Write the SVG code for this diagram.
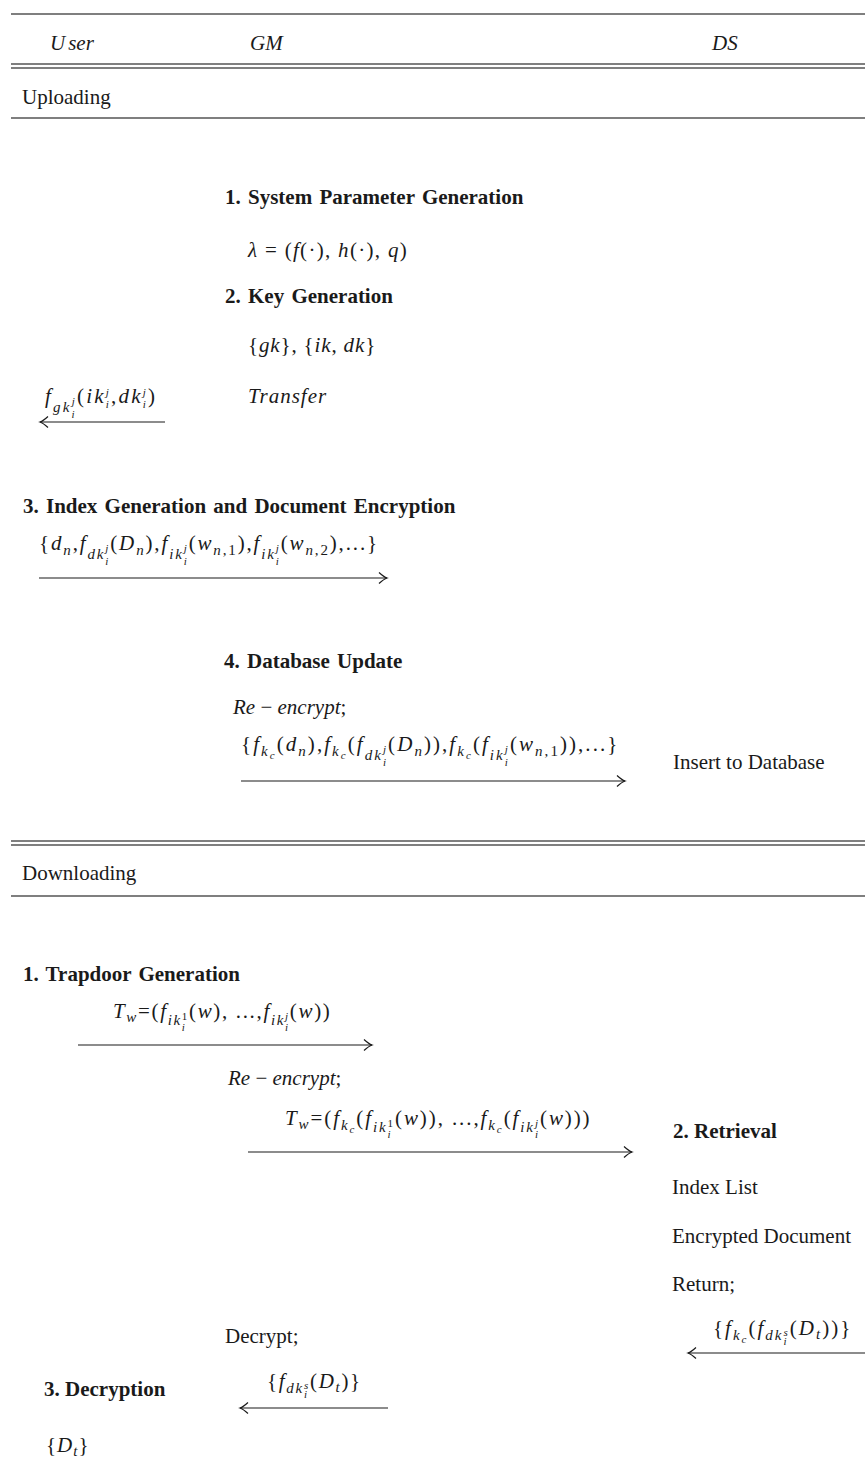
<svg xmlns="http://www.w3.org/2000/svg" width="865" height="1463" viewBox="0 0 865 1463">
<style>
.t{font-family:"Liberation Serif","Times New Roman",serif;font-size:21px;fill:#1a1a1a}
.b{font-weight:bold}
.i{font-style:italic}
.s{font-size:15px;font-style:italic}
.ss{font-size:11px;font-style:italic}
.u{font-style:normal}
.rule{stroke:#555;stroke-width:1.3;fill:none}
.arr{stroke:#1a1a1a;stroke-width:1.2;fill:none}
</style>
<defs>
<marker id="ah" viewBox="-10 -7 12 14" markerWidth="12" markerHeight="14" refX="0" refY="0" orient="auto-start-reverse" markerUnits="userSpaceOnUse">
<path d="M-8,-5.5 Q-3,-1 0,0 Q-3,1 -8,5.5" fill="none" stroke="#1a1a1a" stroke-width="1.2"/>
</marker>
</defs>

<g id="table-rules">
<line class="rule" x1="11" y1="14" x2="865" y2="14"/>
<line class="rule" x1="11" y1="64" x2="865" y2="64"/>
<line class="rule" x1="11" y1="68" x2="865" y2="68"/>
<line class="rule" x1="11" y1="118" x2="865" y2="118"/>
<line class="rule" x1="11" y1="841" x2="865" y2="841"/>
<line class="rule" x1="11" y1="845" x2="865" y2="845"/>
<line class="rule" x1="11" y1="896" x2="865" y2="896"/>
</g>

<g id="header">
<text class="t i" x="50" y="50">U<tspan dx="3">ser</tspan></text>
<text class="t i" x="250" y="50">GM</text>
<text class="t i" x="712" y="50">DS</text>
</g>

<g id="uploading-label"><text class="t" x="22" y="104">Uploading</text></g>

<g id="gm-sysparam">
<text class="t b" x="225" y="204" word-spacing="2">1. System Parameter Generation</text>
<text class="t" x="248" y="257" letter-spacing="1.3"><tspan class="i">λ</tspan> = (<tspan class="i">f</tspan>(·),  <tspan class="i">h</tspan>(·),  <tspan class="i">q</tspan>)</text>
</g>

<g id="gm-keygen">
<text class="t b" x="225" y="303" word-spacing="2">2. Key Generation</text>
<text class="t" x="248" y="352" letter-spacing="0.85">{<tspan class="i">gk</tspan>}, {<tspan class="i">ik</tspan>, <tspan class="i">dk</tspan>}</text>
<text class="t i" x="248" y="403" letter-spacing="1">Transfer</text>
</g>

<g id="user-transfer-label">
<text class="t" x="45" y="403" letter-spacing="2.2"><tspan class="i">f</tspan><tspan class="s" dy="9">gk</tspan><tspan class="ss" dy="6">i</tspan><tspan class="ss" dx="-5.2" dy="-13">j</tspan><tspan dy="-2">(</tspan><tspan class="i">ik</tspan><tspan class="ss" dy="5">i</tspan><tspan class="ss" dx="-5.2" dy="-12">j</tspan><tspan dy="7">,</tspan><tspan class="i">dk</tspan><tspan class="ss" dy="5">i</tspan><tspan class="ss" dx="-5.2" dy="-12">j</tspan><tspan dy="7">)</tspan></text>
</g>

<g id="user-index">
<text class="t b" x="23" y="513" word-spacing="2">3. Index Generation and Document Encryption</text>
<text class="t" x="39" y="550" letter-spacing="1.85">{<tspan class="i">d</tspan><tspan class="s" dy="5">n</tspan><tspan dy="-5">,</tspan><tspan class="i">f</tspan><tspan class="s" dy="9">dk</tspan><tspan class="ss" dy="6">i</tspan><tspan class="ss" dx="-4.85" dy="-13">j</tspan><tspan dy="-2">(</tspan><tspan class="i">D</tspan><tspan class="s" dy="5">n</tspan><tspan dy="-5">),</tspan><tspan class="i">f</tspan><tspan class="s" dy="9">ik</tspan><tspan class="ss" dy="6">i</tspan><tspan class="ss" dx="-4.85" dy="-13">j</tspan><tspan dy="-2">(</tspan><tspan class="i">w</tspan><tspan class="s" dy="5">n<tspan class="u">,1</tspan></tspan><tspan dy="-5">),</tspan><tspan class="i">f</tspan><tspan class="s" dy="9">ik</tspan><tspan class="ss" dy="6">i</tspan><tspan class="ss" dx="-4.85" dy="-13">j</tspan><tspan dy="-2">(</tspan><tspan class="i">w</tspan><tspan class="s" dy="5">n<tspan class="u">,2</tspan></tspan><tspan dy="-5">),...}</tspan></text>
</g>

<g id="gm-dbupdate">
<text class="t b" x="224" y="668" word-spacing="2">4. Database Update</text>
<text class="t" x="233" y="714"><tspan class="i">Re</tspan> − <tspan class="i">encrypt</tspan>;</text>
<text class="t" x="241" y="751" letter-spacing="2.05">{<tspan class="i">f</tspan><tspan class="s" dy="5">k</tspan><tspan class="ss" dy="3">c</tspan><tspan dy="-8">(</tspan><tspan class="i">d</tspan><tspan class="s" dy="5">n</tspan><tspan dy="-5">),</tspan><tspan class="i">f</tspan><tspan class="s" dy="5">k</tspan><tspan class="ss" dy="3">c</tspan><tspan dy="-8">(</tspan><tspan class="i">f</tspan><tspan class="s" dy="9">dk</tspan><tspan class="ss" dy="6">i</tspan><tspan class="ss" dx="-5.05" dy="-13">j</tspan><tspan dy="-2">(</tspan><tspan class="i">D</tspan><tspan class="s" dy="5">n</tspan><tspan dy="-5">)),</tspan><tspan class="i">f</tspan><tspan class="s" dy="5">k</tspan><tspan class="ss" dy="3">c</tspan><tspan dy="-8">(</tspan><tspan class="i">f</tspan><tspan class="s" dy="9">ik</tspan><tspan class="ss" dy="6">i</tspan><tspan class="ss" dx="-5.05" dy="-13">j</tspan><tspan dy="-2">(</tspan><tspan class="i">w</tspan><tspan class="s" dy="5">n<tspan class="u">,1</tspan></tspan><tspan dy="-5">)),...}</tspan></text>
</g>

<g id="ds-insert"><text class="t" x="673" y="769">Insert to Database</text></g>

<g id="downloading-label"><text class="t" x="22" y="880">Downloading</text></g>

<g id="user-trapdoor">
<text class="t b" x="23" y="981" word-spacing="2">1. Trapdoor Generation</text>
<text class="t" x="113" y="1018" letter-spacing="1.65"><tspan class="i">T</tspan><tspan class="s" dy="4">w</tspan><tspan dy="-4">=(</tspan><tspan class="i">f</tspan><tspan class="s" dy="7">ik</tspan><tspan class="ss" dy="6">i</tspan><tspan class="ss u" dx="-4.65" dy="-11">1</tspan><tspan dy="-2">(</tspan><tspan class="i">w</tspan>),  ...,<tspan class="i">f</tspan><tspan class="s" dy="7">ik</tspan><tspan class="ss" dy="6">i</tspan><tspan class="ss" dx="-4.65" dy="-11">j</tspan><tspan dy="-2">(</tspan><tspan class="i">w</tspan>))</text>
</g>

<g id="gm-reencrypt">
<text class="t" x="228" y="1085"><tspan class="i">Re</tspan> − <tspan class="i">encrypt</tspan>;</text>
<text class="t" x="285" y="1125" letter-spacing="1.9"><tspan class="i">T</tspan><tspan class="s" dy="4">w</tspan><tspan dy="-4">=(</tspan><tspan class="i">f</tspan><tspan class="s" dy="5">k</tspan><tspan class="ss" dy="3">c</tspan><tspan dy="-8">(</tspan><tspan class="i">f</tspan><tspan class="s" dy="7">ik</tspan><tspan class="ss" dy="6">i</tspan><tspan class="ss u" dx="-4.9" dy="-11">1</tspan><tspan dy="-2">(</tspan><tspan class="i">w</tspan>)),  ...,<tspan class="i">f</tspan><tspan class="s" dy="5">k</tspan><tspan class="ss" dy="3">c</tspan><tspan dy="-8">(</tspan><tspan class="i">f</tspan><tspan class="s" dy="7">ik</tspan><tspan class="ss" dy="6">i</tspan><tspan class="ss" dx="-4.9" dy="-11">j</tspan><tspan dy="-2">(</tspan><tspan class="i">w</tspan>)))</text>
</g>

<g id="ds-retrieval">
<text class="t b" x="673" y="1138">2. Retrieval</text>
<text class="t" x="672" y="1194">Index List</text>
<text class="t" x="672" y="1243">Encrypted Document</text>
<text class="t" x="672" y="1291">Return;</text>
<text class="t" x="713" y="1335" letter-spacing="2">{<tspan class="i">f</tspan><tspan class="s" dy="5">k</tspan><tspan class="ss" dy="3">c</tspan><tspan dy="-8">(</tspan><tspan class="i">f</tspan><tspan class="s" dy="5">dk</tspan><tspan class="ss" dy="5">i</tspan><tspan class="ss" dx="-5" dy="-9">s</tspan><tspan dy="-1">(</tspan><tspan class="i">D</tspan><tspan class="s" dy="4">t</tspan><tspan dy="-4">))}</tspan></text>
</g>

<g id="gm-decrypt">
<text class="t" x="225" y="1343">Decrypt;</text>
<text class="t" x="267" y="1388" letter-spacing="1.7">{<tspan class="i">f</tspan><tspan class="s" dy="5">dk</tspan><tspan class="ss" dy="5">i</tspan><tspan class="ss" dx="-4.7" dy="-9">s</tspan><tspan dy="-1">(</tspan><tspan class="i">D</tspan><tspan class="s" dy="4">t</tspan><tspan dy="-4">)}</tspan></text>
</g>

<g id="user-decryption">
<text class="t b" x="44" y="1396">3. Decryption</text>
<text class="t" x="46" y="1452" letter-spacing="1">{<tspan class="i">D</tspan><tspan class="s" dy="4">t</tspan><tspan dy="-4">}</tspan></text>
</g>

<g id="connectors">
<line class="arr" x1="165" y1="422" x2="40" y2="422" marker-end="url(#ah)"/>
<line class="arr" x1="39" y1="578" x2="387" y2="578" marker-end="url(#ah)"/>
<line class="arr" x1="241" y1="781" x2="625" y2="781" marker-end="url(#ah)"/>
<line class="arr" x1="78" y1="1045" x2="372" y2="1045" marker-end="url(#ah)"/>
<line class="arr" x1="248" y1="1152" x2="632" y2="1152" marker-end="url(#ah)"/>
<line class="arr" x1="865" y1="1353" x2="688" y2="1353" marker-end="url(#ah)"/>
<line class="arr" x1="388" y1="1408" x2="240" y2="1408" marker-end="url(#ah)"/>
</g>
</svg>
